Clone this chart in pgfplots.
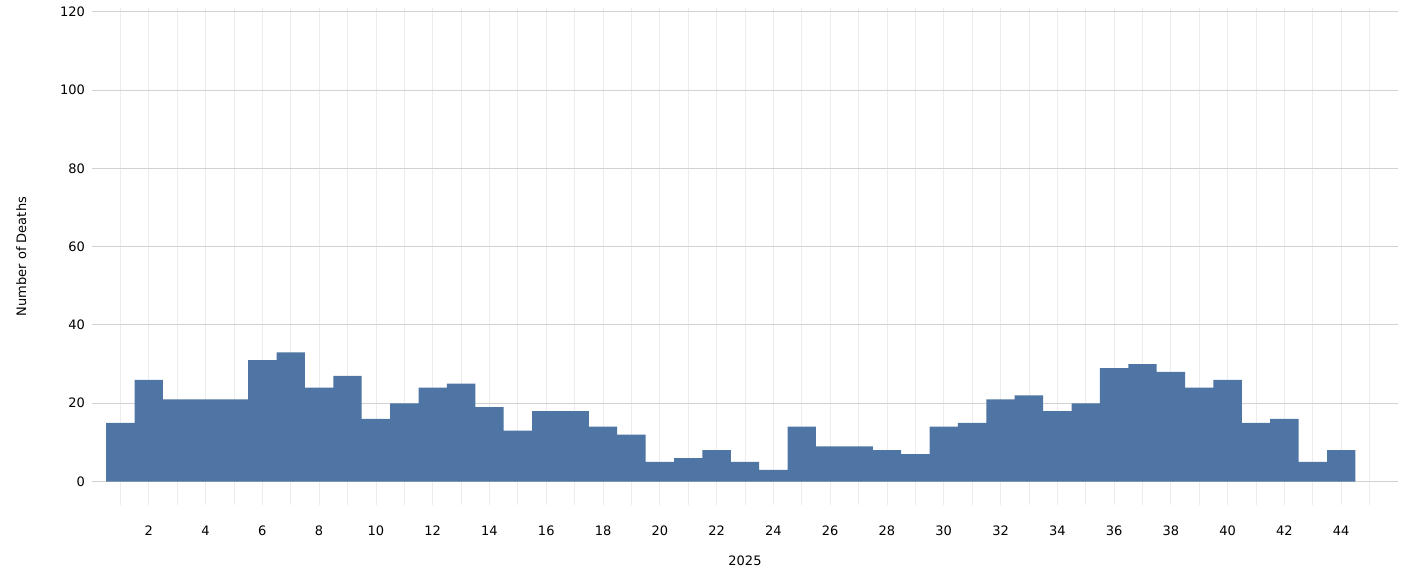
\documentclass[border=0pt]{standalone}
\usepackage{pgfplots}
\pgfplotsset{compat=1.18}
\usepackage{fontspec}
\setmainfont{DejaVu Sans}
\definecolor{barc}{RGB}{78,117,163}
\begin{document}
\begin{tikzpicture}
\path (0,0) rectangle (702pt,-285.5pt);
\begin{axis}[at={(46pt,-252.5pt)},anchor=south west,scale only axis,
width=653pt,height=248.5pt,
xmin=0,xmax=46,ymin=-6,ymax=121,
axis line style={draw=none},
xtick={2,4,...,44},minor xtick={1,3,...,45},
ytick={0,20,...,120},
major tick length=0pt,minor tick length=0pt,
xmajorgrids,xminorgrids,ymajorgrids,
x grid style={gray!15,line width=0.4pt},
minor x grid style={gray!15,line width=0.4pt},
y grid style={gray!35,line width=0.5pt},
tick label style={font=\fontsize{6.5}{7}\selectfont},
xticklabel style={yshift=-7pt},
label style={font=\fontsize{6.5}{7}\selectfont},
/pgf/number format/assume math mode=true,
xlabel={2025},ylabel={Number of Deaths},
xlabel style={yshift=-3pt},
ylabel style={yshift=10pt},
]
\addplot[ybar interval,fill=barc,draw=none] coordinates {
(0.5,15)(1.5,26)(2.5,21)(3.5,21)(4.5,21)(5.5,31)(6.5,33)(7.5,24)(8.5,27)(9.5,16)
(10.5,20)(11.5,24)(12.5,25)(13.5,19)(14.5,13)(15.5,18)(16.5,18)(17.5,14)(18.5,12)(19.5,5)
(20.5,6)(21.5,8)(22.5,5)(23.5,3)(24.5,14)(25.5,9)(26.5,9)(27.5,8)(28.5,7)(29.5,14)
(30.5,15)(31.5,21)(32.5,22)(33.5,18)(34.5,20)(35.5,29)(36.5,30)(37.5,28)(38.5,24)(39.5,26)
(40.5,15)(41.5,16)(42.5,5)(43.5,8)(44.5,8)};
\end{axis}
\end{tikzpicture}
\end{document}
